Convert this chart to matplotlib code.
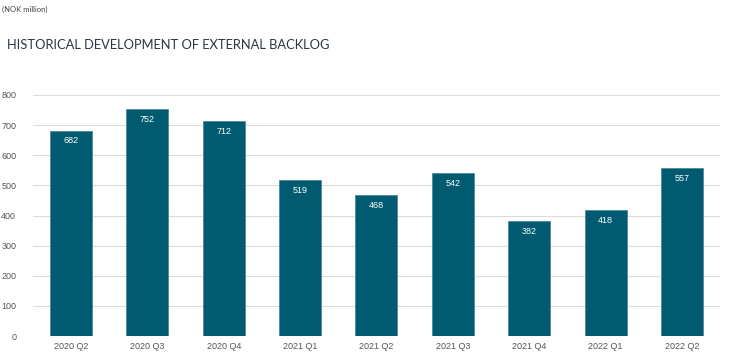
import matplotlib.pyplot as plt

quarters = ["2020 Q2", "2020 Q3", "2020 Q4", "2021 Q1", "2021 Q2",
            "2021 Q3", "2021 Q4", "2022 Q1", "2022 Q2"]
backlog = [682, 752, 712, 519, 468, 542, 382, 418, 557]
yticks = [0, 100, 200, 300, 400, 500, 600, 700, 800]

bar_color = "#005a70"

fig = plt.figure(figsize=(7.31, 3.61), dpi=100)
ax = fig.add_axes([0.045, 0.069, 0.94, 0.668])

x = range(len(quarters))
bars = ax.bar(x, backlog, width=0.55, color=bar_color, edgecolor="#4f8b9a",
              linewidth=0.6, zorder=3)

# verdier inne i toppen av søylene
for xi, v in zip(x, backlog):
    ax.annotate(f"{v}", (xi, v), xytext=(0, -7.5), textcoords="offset points",
                ha="center", va="center", color="white", fontsize=6.5,
                family="Liberation Sans", zorder=4)

ax.set_xlim(-0.5, len(quarters) - 0.5)
ax.set_ylim(0, 800)
ax.set_yticks(yticks)
ax.set_xticks(list(x))
ax.set_xticklabels(quarters)
ax.grid(axis="y", color="#dcdcdc", linewidth=0.8, zorder=0)
for s in ax.spines.values():
    s.set_visible(False)
ax.tick_params(length=0, labelsize=6.5, colors="#555555")
ax.tick_params(axis="x", pad=4)
ax.tick_params(axis="y", pad=12)
for lab in ax.get_xticklabels() + ax.get_yticklabels():
    lab.set_family("Liberation Sans")

fig.text(0.003, 0.985, "(NOK million)", fontsize=5.5, color="#444444",
         family="Lato", va="top", ha="left")
fig.text(0.009, 0.875, "HISTORICAL DEVELOPMENT OF EXTERNAL BACKLOG",
         fontsize=9.3, color="#2a3540", family="Lato", va="center", ha="left")

fig.savefig("out.png", dpi=100)
